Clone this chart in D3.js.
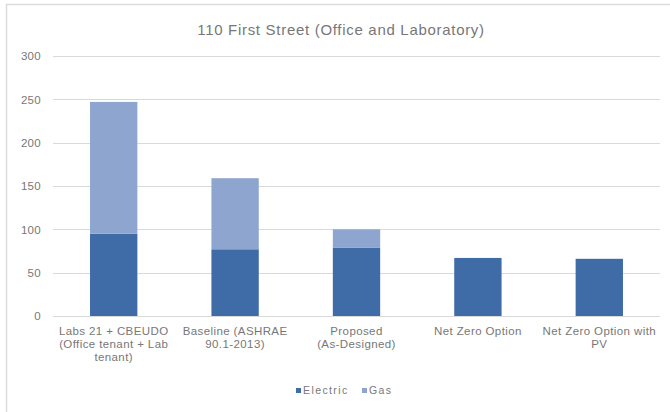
<!DOCTYPE html>
<html>
<head>
<meta charset="utf-8">
<script src="https://cdnjs.cloudflare.com/ajax/libs/d3/7.8.5/d3.min.js"></script>
<style>
  html, body { margin: 0; padding: 0; background: #fff; }
  svg { display: block; }
  text { font-family: "Liberation Sans", "Helvetica", Arial, sans-serif; fill: #777; }
</style>
</head>
<body>
<svg id="chart" width="670" height="412"></svg>
<script>
// Energy use by scenario, stacked Electric + Gas
const categories = [
  ["Labs 21 + CBEUDO", "(Office tenant + Lab", "tenant)"],
  ["Baseline (ASHRAE", "90.1-2013)"],
  ["Proposed", "(As-Designed)"],
  ["Net Zero Option"],
  ["Net Zero Option with", "PV"]
];
const electric = [95, 77, 79, 67, 66];
const gas = [152, 82, 21, 0, 0];
const seriesNames = ["Electric", "Gas"];
const seriesColors = ["#3f6ba7", "#8ea6cf"];
const yTicks = [0, 50, 100, 150, 200, 250, 300];
const title = "110 First Street (Office and Laboratory)";

const svg = d3.select("#chart");
const W = 670, H = 412;
const margin = { left: 53, top: 56 };
const plotRight = 660;
const textColor = "#777";

// chart frame
svg.append("rect")
  .attr("x", 6.5).attr("y", 4.5)
  .attr("width", W + 20).attr("height", H + 20)
  .attr("fill", "#fff").attr("stroke", "#dcdcdc").attr("stroke-width", 1.5);

const rows = categories.map((c, i) => ({ key: i, Electric: electric[i], Gas: gas[i] }));

const x = d3.scaleBand()
  .domain(rows.map(d => d.key))
  .range([margin.left, plotRight])
  .paddingInner(0.61)
  .paddingOuter(0.305);

const y = d3.scaleLinear()
  .domain([0, 300])
  .range([316, 56]);

// gridlines
svg.append("g")
  .selectAll("line")
  .data(yTicks)
  .join("line")
  .attr("x1", margin.left).attr("x2", plotRight)
  .attr("y1", d => Math.round(y(d)) + 0.5).attr("y2", d => Math.round(y(d)) + 0.5)
  .attr("stroke", "#d9d9d9").attr("stroke-width", 1);

// y axis labels
const yAxis = d3.axisLeft(y).tickValues(yTicks).tickSize(0).tickPadding(0);
const yg = svg.append("g").attr("transform", `translate(${margin.left - 12},0)`).call(yAxis);
yg.select(".domain").remove();
yg.selectAll("text")
  .attr("font-family", null)
  .style("font-size", "11.5px")
  .style("letter-spacing", "0.3px")
  .style("fill", textColor);

// stacked bars
const stack = d3.stack().keys(seriesNames);
const layers = stack(rows);
svg.append("g")
  .selectAll("g")
  .data(layers)
  .join("g")
  .attr("fill", (d, i) => seriesColors[i])
  .selectAll("rect")
  .data(d => d.filter(s => s[1] > s[0]))
  .join("rect")
  .attr("x", d => x(d.data.key))
  .attr("width", x.bandwidth())
  .attr("y", d => y(d[1]))
  .attr("height", d => y(d[0]) - y(d[1]));

// baseline
svg.append("line")
  .attr("x1", margin.left).attr("x2", plotRight)
  .attr("y1", 316.5).attr("y2", 316.5)
  .attr("stroke", "#d9d9d9");

// category labels
const xg = svg.append("g");
categories.forEach((lines, i) => {
  const cx = x(i) + x.bandwidth() / 2;
  const t = xg.append("text")
    .attr("x", cx)
    .attr("y", 335)
    .attr("text-anchor", "middle")
    .style("font-size", "11.5px")
    .style("letter-spacing", "0.4px")
    .style("fill", textColor);
  lines.forEach((ln, j) => {
    t.append("tspan")
      .attr("x", cx)
      .attr("dy", j === 0 ? 0 : 13)
      .text(ln);
  });
});

// title
svg.append("text")
  .attr("x", 341).attr("y", 35)
  .attr("text-anchor", "middle")
  .style("font-size", "15px")
  .style("letter-spacing", "0.7px")
  .style("fill", textColor)
  .text(title);

// legend
const legend = svg.append("g");
const legendPos = [296, 362];
seriesNames.forEach((name, i) => {
  legend.append("rect")
    .attr("x", legendPos[i]).attr("y", 388)
    .attr("width", 5).attr("height", 5)
    .attr("fill", seriesColors[i]);
  legend.append("text")
    .attr("x", legendPos[i] + 7).attr("y", 394)
    .style("font-size", "10.5px")
    .style("letter-spacing", "1.4px")
    .style("fill", textColor)
    .text(name);
});
</script>
</body>
</html>
